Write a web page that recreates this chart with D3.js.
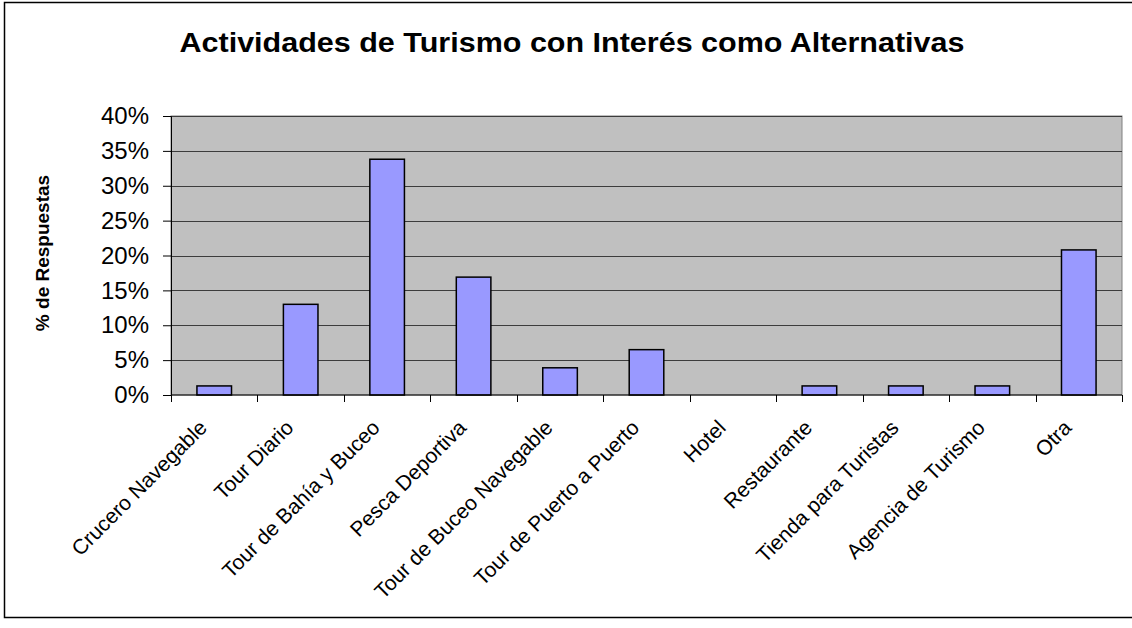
<!DOCTYPE html>
<html>
<head>
<meta charset="utf-8">
<script src="https://cdn.jsdelivr.net/npm/d3@7"></script>
<style>
  body { margin: 0; background: #fff; }
  svg { display: block; font-family: Arial, "Liberation Sans", sans-serif; }
</style>
</head>
<body>
<div id="chart"></div>
<script>
/* -----------------    DATA     ------------------ */

const categories = [
    'Crucero Navegable', 'Tour Diario', 'Tour de Bahía y Buceo', 'Pesca Deportiva',
    'Tour de Buceo Navegable', 'Tour de Puerto a Puerto', 'Hotel', 'Restaurante',
    'Tienda para Turistas', 'Agencia de Turismo', 'Otra'
];
const values = [0.013, 0.13, 0.338, 0.169, 0.039, 0.065, 0, 0.013, 0.013, 0.013, 0.208];
const yTicks = [0, 0.05, 0.10, 0.15, 0.20, 0.25, 0.30, 0.35, 0.40];

const titleText = 'Actividades de Turismo con Interés como Alternativas';
const yTitle = '% de Respuestas';

/* -----------------    LAYOUT     ------------------ */

const W = 1132, H = 628;
const plot = {left: 171, right: 1122, top: 116, bottom: 395};

const svg = d3.select('#chart').append('svg')
    .attr('width', W)
    .attr('height', H);

// outer chart border
svg.append('rect')
    .attr('x', 4.5).attr('y', 2.5)
    .attr('width', W + 10).attr('height', 615)
    .attr('fill', '#fff')
    .attr('stroke', '#000')
    .attr('stroke-width', 1.5);

const x = d3.scaleBand()
    .domain(categories)
    .range([plot.left, plot.right])
    .paddingInner(0.6)
    .paddingOuter(0.3);

const xEdges = d3.scaleLinear()
    .domain([0, categories.length])
    .range([plot.left, plot.right]);

const y = d3.scaleLinear()
    .domain([0, 0.4])
    .range([plot.bottom, plot.top]);

// plot background
svg.append('rect')
    .attr('x', plot.left).attr('y', plot.top)
    .attr('width', plot.right - plot.left)
    .attr('height', plot.bottom - plot.top)
    .attr('fill', '#c0c0c0')
    .attr('stroke', '#808080')
    .attr('stroke-width', 1);

// gridlines
svg.append('g')
    .selectAll('line')
    .data(yTicks.filter(d => d > 0))
    .enter().append('line')
    .attr('x1', plot.left).attr('x2', plot.right)
    .attr('y1', d => Math.round(y(d)) + 0.5)
    .attr('y2', d => Math.round(y(d)) + 0.5)
    .attr('stroke', '#3c3c3c')
    .attr('stroke-width', 1);

// y axis
const yAxis = svg.append('g')
    .attr('transform', `translate(${plot.left},0)`)
    .call(d3.axisLeft(y).tickValues(yTicks).tickFormat(d3.format('.0%')).tickSize(8).tickPadding(14));
yAxis.select('.domain').attr('stroke', '#000');
yAxis.selectAll('.tick line').attr('stroke', '#000');
yAxis.selectAll('.tick text')
    .attr('font-size', '24px')
    .attr('fill', '#000')
    .attr('font-family', 'Arial, "Liberation Sans", sans-serif');

// bars
svg.append('g')
    .selectAll('rect')
    .data(values)
    .enter().append('rect')
    .attr('x', (d, i) => x(categories[i]))
    .attr('y', d => y(d))
    .attr('width', x.bandwidth())
    .attr('height', d => y(0) - y(d))
    .attr('fill', d => d > 0 ? '#9999ff' : 'none')
    .attr('stroke', d => d > 0 ? '#000' : 'none')
    .attr('stroke-width', 1.5);

// x axis line and ticks at category boundaries
const xAxis = svg.append('g');
xAxis.append('line')
    .attr('x1', plot.left).attr('x2', plot.right)
    .attr('y1', plot.bottom).attr('y2', plot.bottom)
    .attr('stroke', '#000').attr('stroke-width', 1.2);
xAxis.selectAll('line.tk')
    .data(d3.range(categories.length + 1))
    .enter().append('line')
    .attr('class', 'tk')
    .attr('x1', d => Math.round(xEdges(d)) + 0.5)
    .attr('x2', d => Math.round(xEdges(d)) + 0.5)
    .attr('y1', plot.bottom).attr('y2', plot.bottom + 7)
    .attr('stroke', '#000');

// rotated category labels
xAxis.selectAll('text')
    .data(categories)
    .enter().append('text')
    .attr('transform', d => `translate(${x(d) + x.bandwidth() / 2 - 6},${plot.bottom + 34}) rotate(-45)`)
    .attr('text-anchor', 'end')
    .attr('font-size', '21px')
    .attr('fill', '#000')
    .text(d => d);

// title
svg.append('text')
    .attr('x', 572).attr('y', 52)
    .attr('text-anchor', 'middle')
    .attr('font-size', '27px')
    .attr('font-weight', 'bold')
    .attr('textLength', 785)
    .attr('lengthAdjust', 'spacingAndGlyphs')
    .text(titleText);

// y axis title
svg.append('text')
    .attr('transform', `translate(49,253) rotate(-90)`)
    .attr('text-anchor', 'middle')
    .attr('font-size', '19px')
    .attr('font-weight', 'bold')
    .text(yTitle);
</script>
</body>
</html>
